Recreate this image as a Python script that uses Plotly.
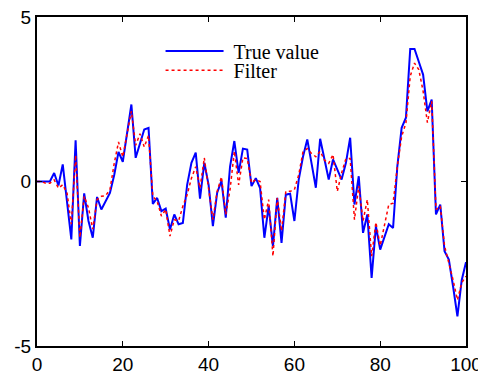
import plotly.graph_objects as go

x_vals = list(range(0, 101))

true_value = [
    0.0, 0.0, 0.0, 0.0, 0.26, -0.12, 0.52, -0.6, -1.76, 1.25,
    -1.96, -0.36, -1.2, -1.71, -0.47, -0.85, -0.6, -0.35, 0.2, 0.9,
    0.6, 1.5, 2.34, 0.72, 1.15, 1.58, 1.63, -0.68, -0.5, -0.9,
    -0.82, -1.46, -1.0, -1.3, -1.26, -0.1, 0.57, 0.88, -0.52, 0.57,
    -0.1, -1.36, -0.34, 0.02, -1.1, 0.45, 1.23, 0.26, 1.0, 0.97,
    -0.14, 0.1, -0.2, -1.71, -0.75, -1.97, -0.5, -1.87, -0.4, -0.37,
    -1.2, 0.05, 0.75, 1.28, 0.55, -0.19, 1.3, 0.68, 0.06, 0.67,
    0.35, 0.06, 0.56, 1.33, -0.7, 0.16, -1.56, -1.0, -2.93, -1.36,
    -2.07, -1.71, -1.3, -1.41, 0.47, 1.63, 1.94, 4.03, 4.03, 3.64,
    3.25, 2.13, 2.49, -1.0, -0.7, -2.12, -2.37, -3.2, -4.1, -3.0,
    -2.45,
]

filter_value = [
    0.0, 0.0, -0.05, -0.05, 0.05, -0.2, -0.1, -0.35, -1.3, 0.8,
    -1.7, -0.45, -0.8, -1.45, -0.55, -0.45, -0.43, -0.25, 0.55, 1.2,
    0.75, 1.4, 2.14, 1.1, 1.45, 1.05, 1.4, -0.45, -0.6, -1.05,
    -0.85, -1.66, -1.16, -1.2, -0.75, -0.4, 0.1, 0.45, -0.2, 0.72,
    -0.2, -1.16, -0.3, 0.14, -1.0, -0.25, 0.92, -0.1, 0.72, 0.7,
    -0.04, 0.06, 0.0, -1.16, -0.55, -2.27, -0.5, -1.5, -0.3, -0.3,
    -0.25, 0.2, 0.9, 1.0, 0.85, 0.75, 0.92, 0.65, 0.55, 0.82,
    -0.3, 0.26, 0.69, 0.7, -1.16, -0.14, -1.2, -0.55, -2.27, -1.24,
    -1.95, -1.34, -0.7, -0.66, 0.46, 1.37, 1.78, 3.2, 3.6, 3.4,
    2.75, 1.79, 2.44, -0.85, -0.75, -1.96, -2.47, -3.0, -3.6, -3.08,
    -2.88,
]

x_ticks = [0, 20, 40, 60, 80, 100]
y_ticks = [-5, 0, 5]

fig = go.Figure()
fig.add_trace(go.Scatter(
    x=x_vals, y=true_value, mode="lines", name="\u00a0True value",
    line=dict(color="#0000ff", width=2), legend="legend",
))
fig.add_trace(go.Scatter(
    x=x_vals, y=filter_value, mode="lines", name="\u00a0Filter",
    line=dict(color="#ff0000", width=1.5, dash="dot"), legend="legend2",
))

axis_common = dict(
    showline=True, linecolor="black", linewidth=2, mirror="ticks",
    ticks="inside", ticklen=5, tickwidth=1, tickcolor="black",
    showgrid=False, zeroline=False, automargin=False,
    ticklabeloverflow="allow",
    tickfont=dict(family="Liberation Sans, Arial", size=19, color="black"),
)

legend_common = dict(
    x=0.288, xanchor="left", yanchor="middle",
    bgcolor="rgba(0,0,0,0)", borderwidth=0,
    font=dict(family="Liberation Serif, Times New Roman", size=20, color="black"),
    itemwidth=58, tracegroupgap=0,
)

# the page body adds an 8px offset, so the figure is sized to fit the window
fig.update_layout(
    width=478, height=368,
    margin=dict(l=29, r=20, t=9, b=30, autoexpand=False),
    paper_bgcolor="white", plot_bgcolor="white",
    xaxis=dict(range=[0, 100], tickvals=x_ticks, ticktext=[str(v) for v in x_ticks], **axis_common),
    yaxis=dict(range=[-5, 5], tickvals=y_ticks, ticktext=[str(v) for v in y_ticks], **axis_common),
    legend=dict(y=0.897, **legend_common),
    legend2=dict(y=0.838, **legend_common),
    showlegend=True,
)

fig.write_html("out.html")
